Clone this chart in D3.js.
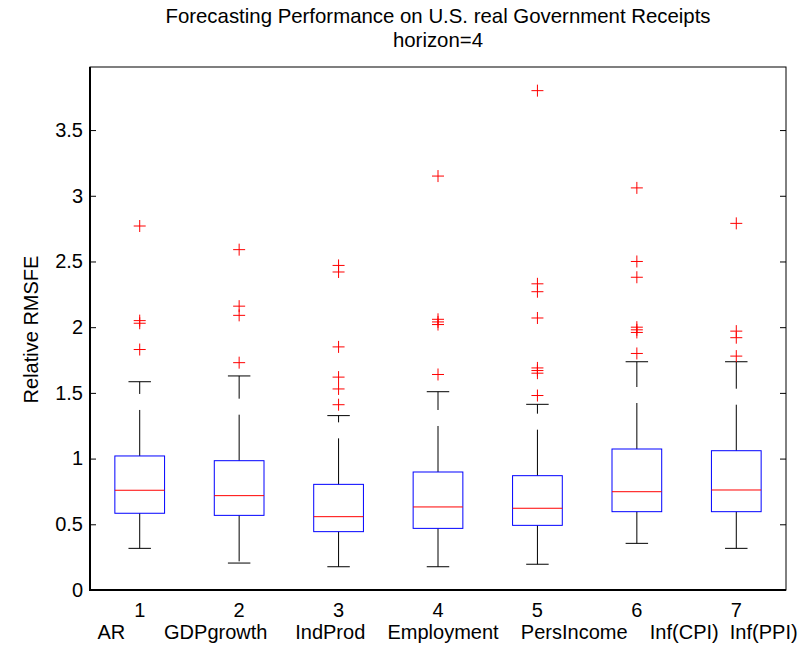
<!DOCTYPE html>
<html>
<head>
<meta charset="utf-8">
<script src="https://cdn.jsdelivr.net/npm/d3@7"></script>
<style>
    body { margin: 0; background: #fff; }
    svg { display: block; font-family: "Liberation Sans", Arial, sans-serif; }
</style>
</head>
<body>
<div id="chart"></div>
<script>
var categories = ['AR', 'GDPgrowth', 'IndProd', 'Employment', 'PersIncome', 'Inf(CPI)', 'Inf(PPI)'];
var lowerWhisker = [0.317, 0.205, 0.177, 0.177, 0.196, 0.355, 0.317];
var q1 = [0.584, 0.568, 0.444, 0.469, 0.492, 0.596, 0.596];
var median = [0.759, 0.718, 0.558, 0.632, 0.622, 0.748, 0.761];
var q3 = [1.020, 0.984, 0.804, 0.898, 0.870, 1.073, 1.060];
var upperWhisker = [1.585, 1.629, 1.327, 1.509, 1.413, 1.737, 1.737];
var outliers = [
    [2.77, 2.05, 2.03, 1.83],
    [2.59, 2.16, 2.09, 1.73],
    [2.47, 2.42, 1.85, 1.62, 1.53, 1.41],
    [3.15, 2.06, 2.04, 2.02, 1.64],
    [3.80, 2.33, 2.27, 2.07, 1.69, 1.67, 1.65, 1.48],
    [3.06, 2.50, 2.38, 2.00, 1.98, 1.96, 1.80],
    [2.79, 1.97, 1.92, 1.78]
];
var yTicks = [0, 0.5, 1, 1.5, 2, 2.5, 3, 3.5];
// spaces between the names in the single xlabel string
var labelGaps = [7, 5, 4, 4, 4, 2];

var width = 811, height = 649;
var mLeft = 90, mRight = 786, mTop = 67, mBottom = 590;

var svg = d3.select('#chart')
    .append('svg')
    .attr('width', width)
    .attr('height', height);

var x = d3.scaleLinear().domain([0.5, 7.5]).range([mLeft, mRight]);
var y = d3.scaleLinear().domain([0, 3.98]).range([mBottom, mTop]);

var boxes = categories.map(function(c, i){
    return {
        pos: i + 1,
        lw: lowerWhisker[i], q1: q1[i], med: median[i], q3: q3[i], uw: upperWhisker[i],
        out: outliers[i]
    };
});

// y axis ticks, inside on both sides
svg.append('g')
    .attr('transform', `translate(${mLeft},0)`)
    .call(d3.axisLeft(y).tickValues(yTicks).tickSize(-6).tickPadding(7).tickFormat(d3.format('')))
    .call(function(g){
        g.select('.domain').remove();
        g.selectAll('text').attr('font-size', 20).attr('fill', '#000').attr('font-family', null);
        g.selectAll('line').attr('stroke', '#000');
    });
svg.append('g')
    .attr('transform', `translate(${mRight},0)`)
    .call(d3.axisRight(y).tickValues(yTicks).tickSize(-6).tickFormat(''))
    .call(function(g){
        g.select('.domain').remove();
        g.selectAll('line').attr('stroke', '#000');
    });

// whiskers
var g = svg.append('g');
g.selectAll('line.wu')
    .data(boxes)
    .enter()
    .append('line')
    .attr('x1', function(d){ return x(d.pos); })
    .attr('x2', function(d){ return x(d.pos); })
    .attr('y1', function(d){ return y(d.q3); })
    .attr('y2', function(d){ return y(d.uw); })
    .attr('stroke', '#000')
    .attr('stroke-dasharray', '46,16');
g.selectAll('line.wl')
    .data(boxes)
    .enter()
    .append('line')
    .attr('x1', function(d){ return x(d.pos); })
    .attr('x2', function(d){ return x(d.pos); })
    .attr('y1', function(d){ return y(d.q1); })
    .attr('y2', function(d){ return y(d.lw); })
    .attr('stroke', '#000')
    .attr('stroke-dasharray', '46,16');

// caps
['uw', 'lw'].forEach(function(k){
    g.selectAll('line.cap-' + k)
        .data(boxes)
        .enter()
        .append('line')
        .attr('x1', function(d){ return x(d.pos - 0.113); })
        .attr('x2', function(d){ return x(d.pos + 0.113); })
        .attr('y1', function(d){ return y(d[k]); })
        .attr('y2', function(d){ return y(d[k]); })
        .attr('stroke', '#000');
});

// boxes
g.selectAll('rect')
    .data(boxes)
    .enter()
    .append('rect')
    .attr('x', function(d){ return x(d.pos - 0.25); })
    .attr('width', function(d){ return x(d.pos + 0.25) - x(d.pos - 0.25); })
    .attr('y', function(d){ return y(d.q3); })
    .attr('height', function(d){ return y(d.q1) - y(d.q3); })
    .attr('fill', 'none')
    .attr('stroke', '#0000ff');

// medians
g.selectAll('line.med')
    .data(boxes)
    .enter()
    .append('line')
    .attr('x1', function(d){ return x(d.pos - 0.25); })
    .attr('x2', function(d){ return x(d.pos + 0.25); })
    .attr('y1', function(d){ return y(d.med); })
    .attr('y2', function(d){ return y(d.med); })
    .attr('stroke', '#ff0000');

// outliers
var pts = [];
boxes.forEach(function(b){
    b.out.forEach(function(v){ pts.push({pos: b.pos, v: v}); });
});
g.selectAll('path.out')
    .data(pts)
    .enter()
    .append('path')
    .attr('d', 'M-6,0H6M0,-6V6')
    .attr('transform', function(d){ return `translate(${x(d.pos)},${y(d.v)})`; })
    .attr('fill', 'none')
    .attr('stroke', '#ff0000');

// axes frame
svg.append('rect')
    .attr('x', mLeft)
    .attr('y', mTop)
    .attr('width', mRight - mLeft)
    .attr('height', mBottom - mTop)
    .attr('fill', 'none')
    .attr('stroke', '#000');
svg.append('path')
    .attr('d', `M${mLeft},${mTop}V${mBottom}H${mRight}`)
    .attr('fill', 'none')
    .attr('stroke', '#000')
    .attr('stroke-width', 2);

// x tick numbers
svg.selectAll('text.xt')
    .data(boxes)
    .enter()
    .append('text')
    .attr('x', function(d){ return x(d.pos); })
    .attr('y', 617)
    .attr('text-anchor', 'middle')
    .attr('font-size', 20)
    .text(function(d){ return d.pos; });

// xlabel: one string holding all names
var xlabel = categories.reduce(function(s, c, i){
    return i === 0 ? c : s + ' '.repeat(labelGaps[i - 1]) + c;
}, '');
svg.append('text')
    .attr('x', 447.5)
    .attr('y', 639)
    .attr('text-anchor', 'middle')
    .attr('font-size', 20)
    .style('white-space', 'pre')
    .text(xlabel);

// ylabel
svg.append('text')
    .attr('transform', `translate(38,${(mTop + mBottom) / 2 + 1}) rotate(-90)`)
    .attr('text-anchor', 'middle')
    .attr('font-size', 20)
    .text('Relative RMSFE');

// title
svg.append('text')
    .attr('x', (mLeft + mRight) / 2)
    .attr('y', 23)
    .attr('text-anchor', 'middle')
    .attr('font-size', 20.4)
    .text('Forecasting Performance on U.S. real Government Receipts');
svg.append('text')
    .attr('x', (mLeft + mRight) / 2)
    .attr('y', 47)
    .attr('text-anchor', 'middle')
    .attr('font-size', 20.4)
    .text('horizon=4');
</script>
</body>
</html>
